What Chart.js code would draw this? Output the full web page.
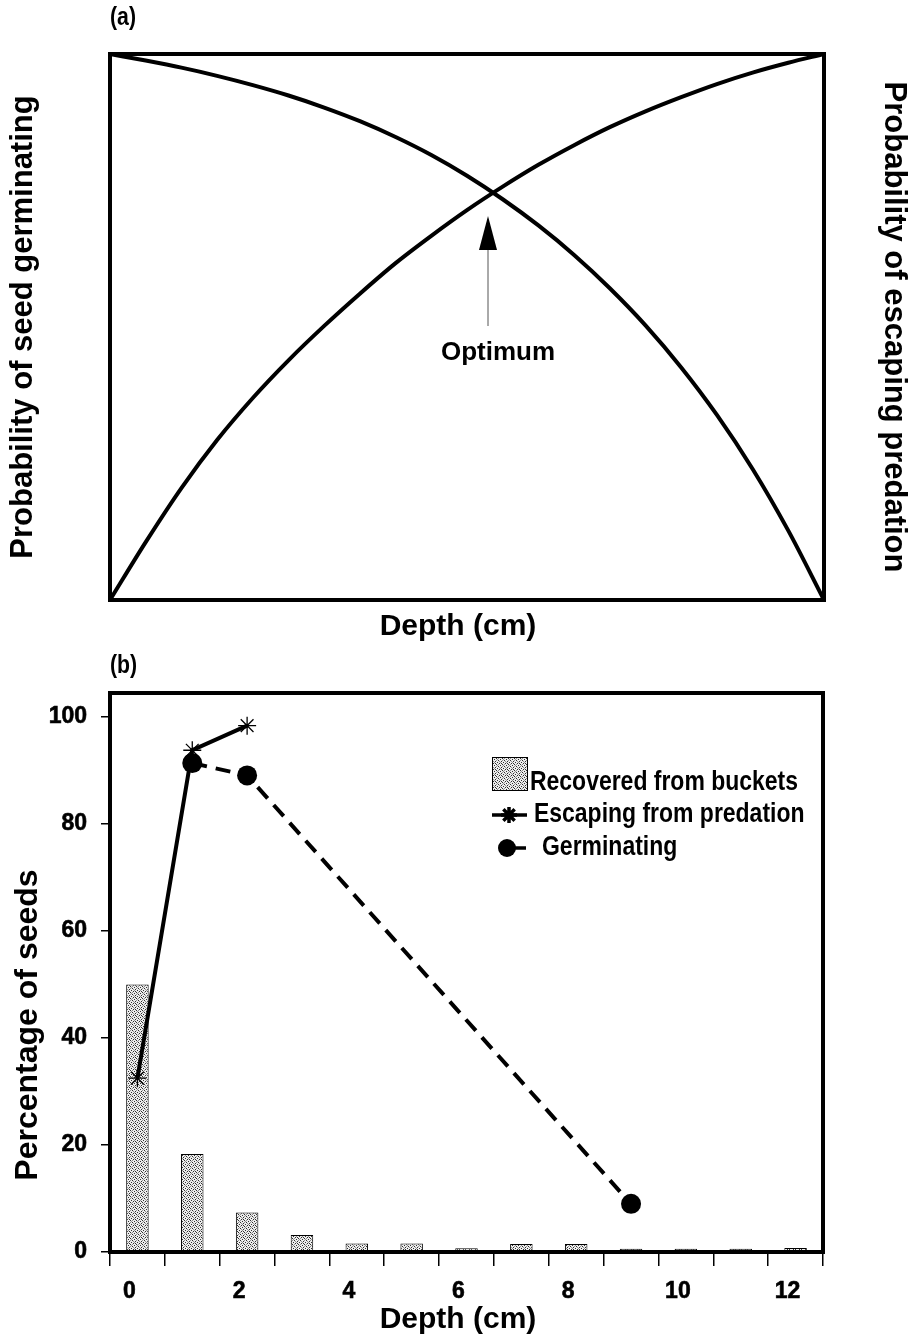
<!DOCTYPE html>
<html><head><meta charset="utf-8">
<script src="https://cdn.jsdelivr.net/npm/chart.js@4.4.1/dist/chart.umd.min.js"></script>
<style>
html,body{margin:0;padding:0;background:#fff;width:913px;height:1338px;overflow:hidden}
#ca{position:absolute;left:0;top:0}
#cb{position:absolute;left:0;top:640px}
</style></head><body>
<canvas id="ca" width="913" height="645"></canvas>
<canvas id="cb" width="913" height="698"></canvas>
<script>
// ---------- Panel (a) data (relative depth 0..1, probabilities 0..1) ----------
const depthFrac       = [0, 0.05, 0.1, 0.15, 0.2, 0.25, 0.3, 0.35, 0.4, 0.45, 0.5, 0.55, 0.6, 0.65, 0.7, 0.75, 0.8, 0.85, 0.9, 0.95, 1];
const probGerminating = [1, 0.988, 0.975, 0.960, 0.943, 0.924, 0.902, 0.877, 0.848, 0.815, 0.777, 0.734, 0.686, 0.632, 0.571, 0.503, 0.426, 0.339, 0.240, 0.127, 0];
const probEscaping    = [0, 0.106, 0.205, 0.293, 0.370, 0.439, 0.502, 0.561, 0.617, 0.667, 0.714, 0.757, 0.797, 0.833, 0.866, 0.895, 0.921, 0.945, 0.966, 0.984, 1];

// ---------- Panel (b) data ----------
const depthCm         = ['0','1','2','3','4','5','6','7','8','9','10','11','12'];
const depthTickLabels = ['0','','2','','4','','6','','8','','10','','12'];
const recovered       = [50, 18.3, 7.4, 3.2, 1.6, 1.6, 0.7, 1.5, 1.5, 0.6, 0.6, 0.6, 0.75];
const escaping        = [32.5, 93.8, 98.4, null, null, null, null, null, null, null, null, null, null];
const germinating     = [null, 91.4, 89.1, null, null, null, null, null, null, 9.0, null, null, null];
const yTicks          = [0, 20, 40, 60, 80, 100];

const FF = '"Liberation Sans", Arial, Helvetica, sans-serif';
Chart.defaults.font.family = FF;
Chart.defaults.color = '#000';

function condensedText(ctx, text, x, y, size, sx, align) {
  ctx.save();
  ctx.font = 'bold ' + size + 'px ' + FF;
  ctx.fillStyle = '#000';
  ctx.textBaseline = 'alphabetic';
  ctx.textAlign = align || 'left';
  ctx.translate(x, y);
  ctx.scale(sx, 1);
  ctx.fillText(text, 0, 0);
  ctx.restore();
}

function frame(chart, lw) {
  const a = chart.chartArea, ctx = chart.ctx;
  ctx.save();
  ctx.strokeStyle = '#000';
  ctx.lineWidth = lw;
  ctx.strokeRect(a.left, a.top, a.right - a.left, a.bottom - a.top);
  ctx.restore();
}

// ---------- Chart (a) ----------
const pluginA = {
  id: 'decorA',
  afterDraw(chart) {
    const ctx = chart.ctx;
    frame(chart, 4);
    const ax = 488;
    ctx.save();
    ctx.strokeStyle = '#555';
    ctx.lineWidth = 1;
    ctx.beginPath(); ctx.moveTo(ax, 326); ctx.lineTo(ax, 248); ctx.stroke();
    ctx.fillStyle = '#000';
    ctx.beginPath(); ctx.moveTo(ax, 216); ctx.lineTo(ax - 9, 250); ctx.lineTo(ax + 9, 250); ctx.closePath(); ctx.fill();
    ctx.font = 'bold 26px ' + FF;
    ctx.textAlign = 'center';
    ctx.textBaseline = 'alphabetic';
    ctx.fillText('Optimum', 498, 360);
    ctx.font = 'bold 30px ' + FF;
    ctx.fillText('Depth (cm)', 458, 635);
    ctx.restore();
    condensedText(ctx, '(a)', 110, 25, 25, 0.85);
  }
};

new Chart(document.getElementById('ca'), {
  type: 'line',
  data: {
    datasets: [
      { label: 'Probability of seed germinating', data: depthFrac.map((d, i) => ({x: d, y: probGerminating[i]})),
        borderColor: '#000', borderWidth: 4, pointRadius: 0, cubicInterpolationMode: 'monotone', yAxisID: 'y', clip: false },
      { label: 'Probability of escaping predation', data: depthFrac.map((d, i) => ({x: d, y: probEscaping[i]})),
        borderColor: '#000', borderWidth: 4, pointRadius: 0, cubicInterpolationMode: 'monotone', yAxisID: 'y2', clip: false }
    ]
  },
  options: {
    responsive: false, animation: false, devicePixelRatio: 1,
    layout: { padding: { top: 54, left: 0, right: 0, bottom: 0 } },
    plugins: { legend: { display: false }, tooltip: { enabled: false } },
    scales: {
      x: { type: 'linear', min: 0, max: 1, ticks: { display: false }, grid: { display: false }, border: { display: false },
           afterFit: s => { s.height = 45; } },
      y: { position: 'left', min: 0, max: 1, ticks: { display: false }, grid: { display: false }, border: { display: false },
           title: { display: true, text: 'Probability of seed germinating', color: '#000', font: { size: 31, weight: 'bold' }, padding: { top: 5, bottom: 0 } },
           afterFit: s => { s.width = 110; } },
      y2: { position: 'right', min: 0, max: 1, ticks: { display: false }, grid: { display: false }, border: { display: false },
           title: { display: true, text: 'Probability of escaping predation', color: '#000', font: { size: 31, weight: 'bold' }, padding: { top: 1, bottom: 0 } },
           afterFit: s => { s.width = 89; } }
    }
  },
  plugins: [pluginA]
});

// ---------- Chart (b) ----------
const cb = document.getElementById('cb');
const pctx = cb.getContext('2d');
function makePattern() {
  const c = document.createElement('canvas'); c.width = 6; c.height = 6;
  const g = c.getContext('2d');
  g.fillStyle = '#eeeeee'; g.fillRect(0, 0, 6, 6);
  g.fillStyle = '#303030';
  [[0,0],[3,1],[1,3],[4,4],[2,5],[5,2],[3,3]].forEach(p => g.fillRect(p[0], p[1], 1, 1));
  g.fillStyle = '#909090';
  [[2,2],[5,5],[0,4],[4,0],[1,1]].forEach(p => g.fillRect(p[0], p[1], 1, 1));
  return pctx.createPattern(c, 'repeat');
}
const stipple = makePattern();

const pluginB = {
  id: 'decorB',
  afterDraw(chart) {
    const ctx = chart.ctx;
    frame(chart, 4);
    condensedText(ctx, '(b)', 110, 33, 25, 0.85);
    ctx.save();
    ctx.fillStyle = '#000';
    ctx.translate(28, 385);
    ctx.rotate(-Math.PI / 2);
    ctx.font = 'bold 32px ' + FF;
    ctx.textAlign = 'center';
    ctx.textBaseline = 'middle';
    ctx.fillText('Percentage of seeds', 0, 0);
    ctx.restore();
    ctx.save();
    ctx.fillStyle = '#000';
    ctx.font = 'bold 30px ' + FF;
    ctx.textAlign = 'center';
    ctx.textBaseline = 'alphabetic';
    ctx.fillText('Depth (cm)', 458, 688);
    ctx.restore();
    // legend
    ctx.save();
    ctx.fillStyle = stipple;
    ctx.fillRect(492, 117, 36, 34);
    ctx.strokeStyle = '#000'; ctx.lineWidth = 1;
    ctx.strokeRect(492.5, 117.5, 35, 33);
    ctx.restore();
    condensedText(ctx, 'Recovered from buckets', 530, 150, 28, 0.82);

    ctx.save();
    ctx.strokeStyle = '#000'; ctx.lineWidth = 3.5;
    ctx.beginPath(); ctx.moveTo(492, 175); ctx.lineTo(527, 175); ctx.stroke();
    Chart.helpers.drawPoint(ctx, { pointStyle: 'star', radius: 8, borderWidth: 1.2 }, 509, 175);
    ctx.restore();
    condensedText(ctx, 'Escaping from predation', 534, 182, 28, 0.82);

    ctx.save();
    ctx.strokeStyle = '#000'; ctx.lineWidth = 3.5;
    ctx.beginPath(); ctx.moveTo(507, 208); ctx.lineTo(526, 208); ctx.stroke();
    ctx.fillStyle = '#000';
    ctx.beginPath(); ctx.arc(507, 208, 9, 0, Math.PI * 2); ctx.fill();
    ctx.restore();
    condensedText(ctx, 'Germinating', 542, 215, 28, 0.82);
  }
};

new Chart(cb, {
  type: 'bar',
  data: {
    labels: depthCm,
    datasets: [
      { type: 'line', label: 'Escaping from predation', data: escaping, borderColor: '#000', borderWidth: 4,
        pointStyle: 'star', pointRadius: 9, pointBorderWidth: 1.3, pointBorderColor: '#000', pointBackgroundColor: '#000',
        tension: 0, spanGaps: true, order: 1, clip: false },
      { type: 'line', label: 'Germinating', data: germinating, borderColor: '#000', borderWidth: 4, borderDash: [15, 9],
        pointStyle: 'circle', pointRadius: 10, pointBackgroundColor: '#000', pointBorderColor: '#000', pointBorderWidth: 0,
        tension: 0, spanGaps: true, order: 2, clip: false },
      { type: 'bar', label: 'Recovered from buckets', data: recovered, backgroundColor: stipple, borderColor: '#000',
        borderWidth: 1, barPercentage: 0.41, categoryPercentage: 1.0, order: 3 }
    ]
  },
  options: {
    responsive: false, animation: false, devicePixelRatio: 1,
    layout: { padding: { top: 53, left: 0, right: 90, bottom: 0 } },
    plugins: { legend: { display: false }, tooltip: { enabled: false } },
    scales: {
      x: { type: 'category', offset: true,
           grid: { offset: true, display: true, drawOnChartArea: false, drawTicks: true, tickLength: 14, color: '#000', lineWidth: 1.5 },
           border: { display: false },
           ticks: { autoSkip: false, maxRotation: 0, minRotation: 0, padding: 12, color: '#000', labelOffset: -8,
                    textStrokeColor: '#000', textStrokeWidth: 0.6,
                    font: { size: 23, weight: 'bold' }, callback: (v, i) => depthTickLabels[i] },
           afterFit: s => { s.height = 86; } },
      y: { min: 0, max: 104.5,
           afterBuildTicks: s => { s.ticks = yTicks.map(v => ({ value: v })); },
           grid: { display: true, drawOnChartArea: false, drawTicks: true, tickLength: 9, color: '#000', lineWidth: 1.5 },
           border: { display: false },
           ticks: { padding: 14, color: '#000', textStrokeColor: '#000', textStrokeWidth: 0.6, font: { size: 23, weight: 'bold' } },
           afterFit: s => { s.width = 110; } }
    }
  },
  plugins: [pluginB]
});
</script>
</body></html>
